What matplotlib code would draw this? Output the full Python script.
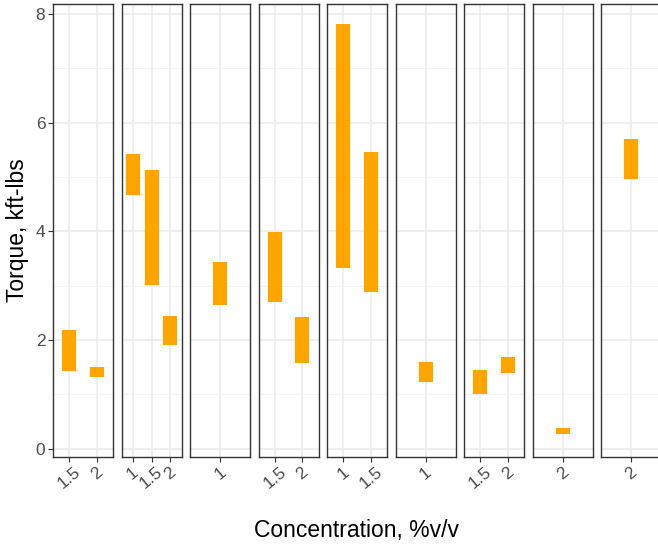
import matplotlib.pyplot as plt
from matplotlib.ticker import MultipleLocator

# torque range per facet, one entry per concentration level
panel_conc = [
    ["1.5", "2"],
    ["1", "1.5", "2"],
    ["1"],
    ["1.5", "2"],
    ["1", "1.5"],
    ["1"],
    ["1.5", "2"],
    ["2"],
    ["2"],
]
torque_low = [
    [1.43, 1.32],
    [4.67, 3.02, 1.91],
    [2.64],
    [2.70, 1.57],
    [3.33, 2.89],
    [1.22],
    [1.01, 1.40],
    [0.27],
    [4.97],
]
torque_high = [
    [2.18, 1.51],
    [5.43, 5.13, 2.44],
    [3.44],
    [3.98, 2.42],
    [7.82, 5.46],
    [1.59],
    [1.45, 1.68],
    [0.38],
    [5.69],
]

W, H = 658, 546
fig = plt.figure(figsize=(W / 100, H / 100), dpi=100)
plt.rcParams['font.family'] = ['Liberation Sans', 'DejaVu Sans']

top_px, bot_px = 4, 457
panel_w = 60
step = 68.5
left0 = 53

axes = []
for i, (cats, lo, hi) in enumerate(zip(panel_conc, torque_low, torque_high)):
    x0 = left0 + i * step
    ax = fig.add_axes([x0 / W, (H - bot_px) / H, panel_w / W, (bot_px - top_px) / H])
    pos = list(range(1, len(cats) + 1))
    ax.vlines(pos, lo, hi, color='#FFA500', linewidth=10.2, capstyle='butt', zorder=3)
    ax.set_xlim(0.4, len(cats) + 0.6)
    ax.set_ylim(-0.15, 8.18)
    ax.yaxis.set_major_locator(MultipleLocator(2))
    ax.yaxis.set_minor_locator(MultipleLocator(1))
    ax.set_xticks(pos)
    ax.set_xticklabels(cats, rotation=40, ha='center', va='top',
                       fontsize=12.5, color='#4D4D4D')
    ax.grid(True, which='major', color='#EBEBEB', linewidth=1.1, zorder=0)
    ax.grid(True, which='minor', axis='y', color='#F2F2F2', linewidth=0.6, zorder=0)
    ax.tick_params(axis='x', length=3.5, width=0.8, color='#333333', pad=2)
    ax.tick_params(axis='y', which='minor', length=0)
    if i == 0:
        ax.tick_params(axis='y', length=3.5, width=0.8, color='#333333',
                       labelsize=12.5, labelcolor='#4D4D4D', pad=2)
        ax.set_ylabel('Torque, kft-lbs', fontsize=16.5, labelpad=5)
    else:
        ax.tick_params(axis='y', which='both', length=0, labelleft=False)
    for s in ax.spines.values():
        s.set_color('#333333')
        s.set_linewidth(1.0)
    ax.set_axisbelow(True)
    axes.append(ax)

fig.text(357 / W, 1 - 530 / H, 'Concentration, %v/v', fontsize=16.5,
         ha='center', va='center')

fig.savefig('out.png', dpi=100)
